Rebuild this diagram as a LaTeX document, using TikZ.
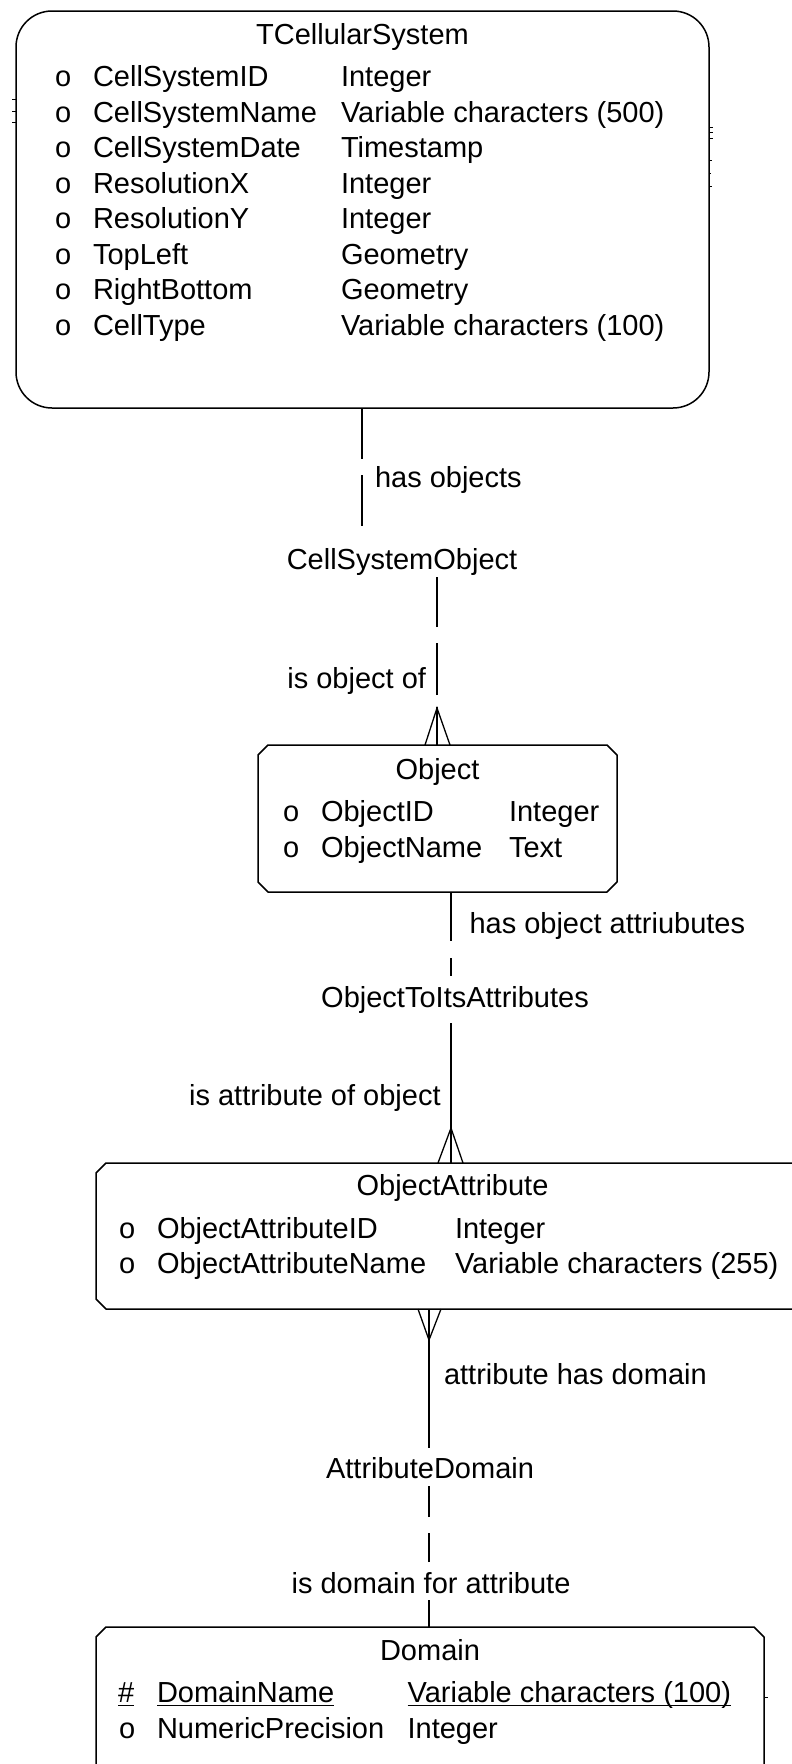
\documentclass[tikz,border=0pt]{standalone}
\usepackage{fontspec}
\setmainfont{Liberation Sans}
\newcommand\chamf[1]{\draw[boxline] ([xshift=10pt]#1.north west) -- ([xshift=-10pt]#1.north east) -- ([yshift=-10pt]#1.north east) -- ([yshift=10pt]#1.south east) -- ([xshift=-10pt]#1.south east) -- ([xshift=10pt]#1.south west) -- ([yshift=10pt]#1.south west) -- ([yshift=-10pt]#1.north west) -- cycle;}
\begin{document}
\begin{tikzpicture}[x=1pt,y=-1pt,
  ft/.style={font=\fontsize{29}{35}\selectfont, inner sep=0pt, outer sep=0pt},
  cell/.style={ft, anchor=base west},
  ttl/.style={ft, anchor=base},
  rel/.style={ft, anchor=base, text height=22pt, text depth=8pt},
  boxline/.style={line width=1.5pt, line join=round},
  ln/.style={line width=1.3pt},
  tick/.style={line width=0.9pt},
  ent/.style={inner sep=0pt, outer sep=0pt, anchor=north west}]
\useasboundingbox (0,0) rectangle (792,1764);
\clip (0,0) rectangle (792,1764);

% ---------- TCellularSystem ----------
\node[ent, draw, boxline, rounded corners=36pt, minimum width=693pt, minimum height=397pt] (tcs) at (16,11) {};
\node[ttl] (tcsT) at (362.5,44) {TCellularSystem};
\foreach \n/\t [count=\k from 0] in {{CellSystemID}/{Integer},{CellSystemName}/{Variable characters (500)},{CellSystemDate}/{Timestamp},{ResolutionX}/{Integer},{ResolutionY}/{Integer},{TopLeft}/{Geometry},{RightBottom}/{Geometry},{CellType}/{Variable characters (100)}}{
  \node[cell] (tcsO\k) at (55,{86.7+35.5*\k}) {o};
  \node[cell] (tcsN\k) at (93,{86.7+35.5*\k}) {\n};
  \node[cell] (tcsY\k) at (341,{86.7+35.5*\k}) {\t};
}
% small marks at the sides
\draw[tick] (12,99) -- (16,99) (12,111) -- (16,111) (12,122) -- (16,122);
\draw[tick] (709,127) -- (713,127) (709,132) -- (713,132) (709,138) -- (713,138)
  (709,160) -- (712,160) (709,173) -- (711,173) (709,186) -- (712,186);

% ---------- Object ----------
\node[ent, minimum width=359pt, minimum height=147pt] (obj) at (258,745) {};
\chamf{obj}
\node[ttl] (objT) at (437.5,779) {Object};
\node[cell] (objO0) at (283,821) {o};
\node[cell] (objN0) at (321,821) {ObjectID};
\node[cell] (objY0) at (509,821) {Integer};
\node[cell] (objO1) at (283,857) {o};
\node[cell] (objN1) at (321,857) {ObjectName};
\node[cell] (objY1) at (509,857) {Text};

% ---------- ObjectAttribute ----------
\node[ent, minimum width=713pt, minimum height=146pt] (oa) at (96,1163) {};
\chamf{oa}
\node[ttl] (oaT) at (452.5,1195) {ObjectAttribute};
\node[cell] (oaO0) at (119,1238) {o};
\node[cell] (oaN0) at (157,1238) {ObjectAttributeID};
\node[cell] (oaY0) at (455,1238) {Integer};
\node[cell] (oaO1) at (119,1273) {o};
\node[cell] (oaN1) at (157,1273) {ObjectAttributeName};
\node[cell] (oaY1) at (455,1273) {Variable characters (255)};

% ---------- Domain ----------
\node[ent, minimum width=668pt, minimum height=250pt] (dom) at (96,1627) {};
\chamf{dom}
\node[ttl] (domT) at (430,1660) {Domain};
\node[cell] (domO0) at (118,1702) {\#};
\node[cell] (domN0) at (157,1702) {DomainName};
\node[cell] (domY0) at (407.6,1702) {Variable characters (100)};
\draw[line width=1.4pt] ([yshift=-3.5pt]domO0.base west) -- ([yshift=-3.5pt]domO0.base east);
\draw[line width=1.4pt] ([yshift=-3.5pt]domN0.base west) -- ([yshift=-3.5pt]domN0.base east);
\draw[line width=1.4pt] ([yshift=-3.5pt]domY0.base west) -- ([yshift=-3.5pt]domY0.base east);
\node[cell] (domO1) at (119,1738) {o};
\node[cell] (domN1) at (157,1738) {NumericPrecision};
\node[cell] (domY1) at (407.6,1738) {Integer};
\draw[tick] (765,1697) -- (768,1697);

% ---------- relationship names and roles ----------
\node[rel] (cso) at (402,569) {CellSystemObject};
\node[rel] (otia) at (455,1007) {ObjectToItsAttributes};
\node[rel] (ad) at (430,1478) {AttributeDomain};
\node[ft, anchor=base west] (r1) at (375,487) {has objects};
\node[ft, anchor=base east] (r2) at (426,688) {is object of};
\node[ft, anchor=base west] (r3) at (469.5,933) {has object attriubutes};
\node[ft, anchor=base east] (r4) at (440.6,1105) {is attribute of object};
\node[ft, anchor=base west] (r5) at (444,1384) {attribute has domain};
\node[ft, anchor=base] (r6) at (431,1593) {is domain for attribute};

% ---------- connectors ----------
\coordinate (x1) at (362,0);
\coordinate (x2) at (437,0);
\coordinate (x3) at (451,0);
\coordinate (x4) at (429,0);

\draw[ln, dash pattern=on 51pt off 16pt on 51pt off 500pt] (tcs.south -| x1) -- (x1 |- cso.north);
\coordinate (cf1) at (x2 |- obj.north);
\draw[ln, dash pattern=on 38pt off 12pt on 52pt off 16pt on 50pt off 500pt] (cf1) -- (x2 |- cso.south);
\draw[ln] ([xshift=-12pt]cf1) -- ([yshift=37pt]cf1) -- ([xshift=13pt]cf1);

\draw[ln, dash pattern=on 49pt off 17pt on 18pt off 500pt] (x3 |- obj.south) -- (x3 |- otia.north);
\coordinate (cf2) at (x3 |- oa.north);
\draw[ln, dash pattern=on 140pt off 500pt] (cf2) -- (x3 |- otia.south);
\draw[ln] ([xshift=-13pt]cf2) -- ([yshift=35pt]cf2) -- ([xshift=12pt]cf2);

\coordinate (cf3) at (x4 |- oa.south);
\draw[ln, dash pattern=on 139pt off 500pt] (cf3) -- (x4 |- ad.north);
\draw[ln] ([xshift=-11pt]cf3) -- ([yshift=-31pt]cf3) -- ([xshift=12pt]cf3);
\draw[ln, dash pattern=on 27pt off 38pt on 29pt off 16pt on 32pt off 500pt] (x4 |- dom.north) -- (x4 |- ad.south);
\end{tikzpicture}
\end{document}
